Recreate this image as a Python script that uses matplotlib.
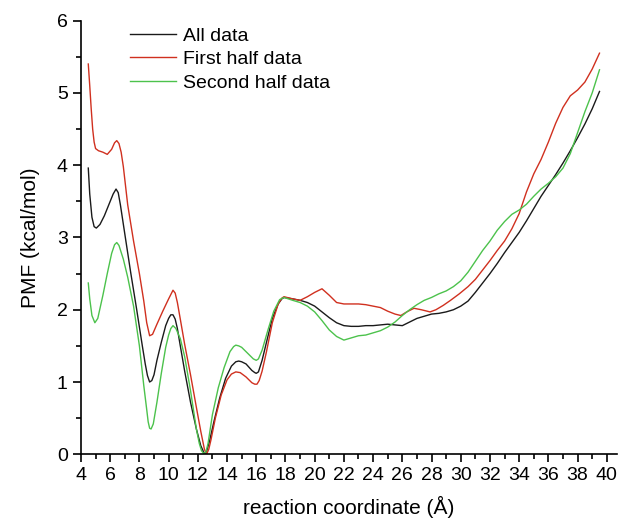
import matplotlib
matplotlib.use('Agg')

import matplotlib.pyplot as plt
from matplotlib.ticker import MultipleLocator

plt.rcParams['font.family'] = ['Liberation Sans', 'DejaVu Sans']

# PMF along the reaction coordinate, all data
x_all = [4.5, 4.6, 4.75, 4.9, 5.05, 5.3, 5.6, 6.0, 6.2, 6.4, 6.55, 6.7, 6.85, 7.0, 7.4, 7.8,
         8.2, 8.4, 8.55, 8.7, 8.85, 9.0, 9.2, 9.5, 9.8, 10.0, 10.15, 10.3, 10.45, 10.6,
         10.8, 11.1, 11.5, 11.9, 12.2, 12.4, 12.5, 12.6, 12.8, 13.1, 13.5, 13.9, 14.3,
         14.6, 14.8, 15.0, 15.3, 15.7, 15.9, 16.0, 16.15, 16.4, 16.7, 17.1, 17.5, 17.75,
         17.9, 18.5, 19.0, 19.5, 20.0, 20.5, 21.0, 21.5, 22.0, 22.5, 23.0, 23.5, 24.0,
         24.5, 25.0, 25.5, 26.0, 26.5, 27.0, 27.5, 28.0, 28.5, 29.0, 29.5, 30.0, 30.5,
         31.0, 31.5, 32.0, 32.5, 33.0, 33.5, 34.0, 34.5, 35.0, 35.5, 36.0, 36.5, 37.0,
         37.5, 38.0, 38.5, 39.0, 39.5]
pmf_all = [3.96, 3.6, 3.28, 3.15, 3.13, 3.18, 3.3, 3.5, 3.6, 3.67, 3.62, 3.45, 3.25, 3.05, 2.52, 2.02,
           1.5, 1.25, 1.09, 1.0, 1.02, 1.1, 1.3, 1.55, 1.78, 1.88, 1.93, 1.93, 1.87, 1.74,
           1.5, 1.15, 0.72, 0.35, 0.12, 0.03, 0.0, 0.04, 0.18, 0.45, 0.78, 1.05, 1.22,
           1.28, 1.29, 1.28, 1.25, 1.16, 1.13, 1.12, 1.14, 1.3, 1.55, 1.88, 2.08, 2.15,
           2.17, 2.15, 2.13, 2.1, 2.05, 1.97, 1.89, 1.82, 1.78, 1.77, 1.77, 1.78, 1.78,
           1.79, 1.8, 1.79, 1.78, 1.83, 1.88, 1.91, 1.94, 1.95, 1.97, 2.0, 2.05, 2.12,
           2.24, 2.37, 2.5, 2.64, 2.79, 2.93, 3.07, 3.23, 3.4, 3.57, 3.72, 3.87, 4.03,
           4.2, 4.38, 4.57, 4.78, 5.02]

# first half of the data
x_first = [4.5, 4.6, 4.7, 4.8, 4.9, 5.0, 5.2, 5.5, 5.8, 6.1, 6.3, 6.45, 6.6, 6.75, 6.9, 7.2,
           7.6, 8.0, 8.3, 8.5, 8.7, 8.9, 9.2, 9.6, 10.0, 10.2, 10.3, 10.45, 10.6, 10.8,
           11.1, 11.5, 11.9, 12.2, 12.45, 12.6, 12.75, 12.9, 13.2, 13.6, 14.0, 14.3, 14.6,
           14.9, 15.3, 15.7, 15.9, 16.05, 16.2, 16.4, 16.7, 17.1, 17.5, 17.75, 17.9, 18.5,
           19.0, 19.5, 20.0, 20.5, 21.0, 21.5, 22.0, 22.5, 23.0, 23.5, 24.0, 24.5, 25.0,
           25.5, 25.9, 26.3, 26.8, 27.3, 27.9, 28.3, 28.8, 29.3, 29.9, 30.5, 31.0, 31.5,
           32.0, 32.5, 33.0, 33.5, 34.0, 34.5, 35.0, 35.5, 36.0, 36.5, 37.0, 37.5, 38.0,
           38.5, 39.0, 39.5]
pmf_first = [5.4, 5.1, 4.78, 4.5, 4.32, 4.23, 4.2, 4.18, 4.15, 4.22, 4.31, 4.34, 4.3, 4.18, 3.98, 3.45,
             2.95, 2.5, 2.12, 1.82, 1.64, 1.66, 1.8, 1.98, 2.15, 2.23, 2.27, 2.23, 2.1, 1.87,
             1.52, 1.1, 0.65, 0.32, 0.07, 0.0, 0.07, 0.2, 0.5, 0.82, 1.03, 1.11, 1.14,
             1.13, 1.07, 0.99, 0.97, 0.97, 1.02, 1.15, 1.42, 1.82, 2.08, 2.16, 2.18, 2.15,
             2.13, 2.18, 2.24, 2.29, 2.2, 2.1, 2.08, 2.08, 2.08, 2.07, 2.05, 2.03, 1.98,
             1.94, 1.92, 1.97, 2.02, 2.0, 1.97, 2.0, 2.06, 2.13, 2.22, 2.32, 2.42, 2.55,
             2.68, 2.82, 2.95, 3.12, 3.33, 3.63, 3.88, 4.08, 4.32, 4.58, 4.8, 4.96, 5.04,
             5.15, 5.33, 5.55]

# second half of the data
x_second = [4.5, 4.6, 4.75, 4.95, 5.15, 5.5, 5.8, 6.1, 6.3, 6.45, 6.6, 6.9, 7.2, 7.6, 8.0,
            8.3, 8.5, 8.6, 8.7, 8.8, 8.95, 9.2, 9.5, 9.8, 10.0, 10.15, 10.3, 10.5, 10.8,
            11.1, 11.5, 11.9, 12.1, 12.25, 12.4, 12.55, 12.7, 13.0, 13.4, 13.8, 14.2, 14.45,
            14.6, 14.8, 15.0, 15.4, 15.8, 16.0, 16.15, 16.4, 16.8, 17.2, 17.6, 17.9, 18.5,
            19.0, 19.5, 20.0, 20.5, 21.0, 21.5, 22.0, 22.5, 23.0, 23.5, 24.0, 24.5, 25.0,
            25.5, 26.0, 26.5, 27.0, 27.5, 28.0, 28.5, 29.0, 29.5, 30.0, 30.5, 31.0, 31.5,
            32.0, 32.5, 33.0, 33.5, 34.0, 34.5, 35.0, 35.5, 36.0, 36.5, 37.0, 37.5, 38.0,
            38.5, 39.0, 39.5]
pmf_second = [2.37, 2.15, 1.92, 1.82, 1.88, 2.2, 2.5, 2.78, 2.9, 2.93, 2.89, 2.7, 2.45, 2.05, 1.5,
              0.95, 0.62, 0.45, 0.36, 0.35, 0.42, 0.72, 1.12, 1.48, 1.65, 1.74, 1.78, 1.74, 1.6,
              1.35, 0.88, 0.35, 0.15, 0.05, 0.01, 0.03, 0.15, 0.55, 0.92, 1.2, 1.42, 1.49,
              1.51, 1.5, 1.48, 1.4, 1.32, 1.3, 1.32, 1.44, 1.72, 1.98, 2.14, 2.17, 2.13,
              2.1, 2.05, 1.97, 1.85, 1.72, 1.63, 1.58, 1.61, 1.64, 1.65, 1.68, 1.71, 1.76,
              1.83, 1.92, 2.0, 2.07, 2.13, 2.17, 2.22, 2.26, 2.32, 2.4, 2.52, 2.67, 2.82,
              2.95, 3.1, 3.22, 3.32, 3.38, 3.46, 3.57, 3.67, 3.75, 3.84, 3.96, 4.16, 4.45,
              4.74, 5.0, 5.32]

labels = ['All data', 'First half data', 'Second half data']

fig = plt.figure(figsize=(6.21, 5.19), dpi=100)
ax = fig.add_axes([0.1304, 0.1247, 0.8632, 0.8355])

ax.plot(x_all, pmf_all, color='#1a1a1a', lw=1.0, label=labels[0])
ax.plot(x_first, pmf_first, color='#d0301f', lw=1.0, label=labels[1])
ax.plot(x_second, pmf_second, color='#4cc24c', lw=1.0, label=labels[2])

ax.set_xlim(4, 40.7)
ax.set_ylim(0, 6)

ax.xaxis.set_major_locator(MultipleLocator(2))
ax.xaxis.set_minor_locator(MultipleLocator(1))
ax.yaxis.set_major_locator(MultipleLocator(1))
ax.yaxis.set_minor_locator(MultipleLocator(0.5))
ax.tick_params(which='major', direction='out', length=6, width=1.2, labelsize=14)
ax.tick_params(which='minor', direction='out', length=3.5, width=1.2)

for side in ('top', 'right'):
    ax.spines[side].set_visible(False)
for side in ('left', 'bottom'):
    ax.spines[side].set_linewidth(1.2)

ax.set_xlabel('reaction coordinate (Å)', fontsize=15, labelpad=8)
ax.set_ylabel('PMF (kcal/mol)', fontsize=15, labelpad=12)

ax.legend(loc='upper left', bbox_to_anchor=(0.091, 0.985), frameon=False,
          fontsize=14, borderpad=0, borderaxespad=0, handlelength=2.4,
          handletextpad=0.35, labelspacing=0.3)

plt.savefig('out.png', dpi=100)
